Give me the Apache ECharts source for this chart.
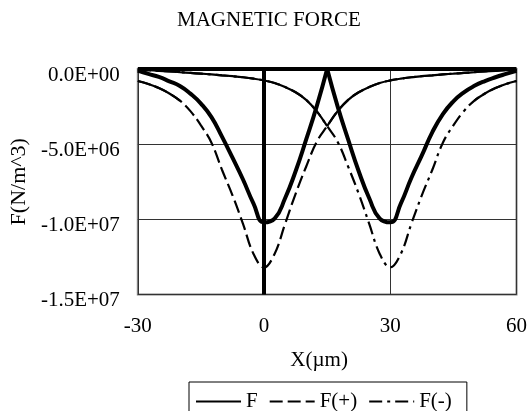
<!DOCTYPE html>
<html><head><meta charset="utf-8">
<script src="https://cdn.jsdelivr.net/npm/echarts@6/dist/echarts.min.js"></script>
<style>html,body{margin:0;padding:0;background:#fff}#c{width:530px;height:411px}</style>
</head><body><div id="c"></div>
<script>
// x positions (µm)
const xValues = [-30,-27.5,-25,-22.5,-20,-17.5,-15,-12.5,-10,-7.5,-5,-2.5,0,2.5,5,7.5,10,12.5,15,17.5,20,22.5,25,27.5,30,32.5,35,37.5,40,42.5,45,47.5,50,52.5,55,57.5,60];
// values in units of 1E+06 N/m^3
const F_e6 = [-0.10,-0.33,-0.53,-0.82,-1.13,-1.64,-2.30,-3.20,-4.50,-5.90,-7.35,-8.95,-10.2,-9.95,-8.60,-6.80,-4.70,-2.50,0,-2.50,-4.70,-6.80,-8.60,-9.95,-10.2,-8.95,-7.25,-5.75,-4.20,-3.00,-2.15,-1.55,-1.12,-0.80,-0.55,-0.33,-0.12];
const Fplus_e6 = [-0.80,-1.00,-1.27,-1.63,-2.10,-2.80,-3.75,-4.90,-6.70,-8.40,-10.3,-12.3,-13.2,-12.3,-10.3,-8.30,-6.50,-4.85,-3.80,-2.80,-2.05,-1.55,-1.20,-0.93,-0.76,-0.64,-0.55,-0.48,-0.42,-0.36,-0.31,-0.26,-0.21,-0.16,-0.12,-0.08,-0.05];
const Fminus_e6 = [-0.05,-0.08,-0.12,-0.16,-0.21,-0.26,-0.31,-0.36,-0.42,-0.48,-0.55,-0.64,-0.76,-0.93,-1.20,-1.55,-2.05,-2.80,-3.80,-4.85,-6.50,-8.30,-10.3,-12.3,-13.2,-12.3,-10.3,-8.40,-6.70,-4.90,-3.75,-2.80,-2.10,-1.63,-1.27,-1.00,-0.80];
const seriesNames = ['F','F(+)','F(-)'];
const xTickValues = [-30,0,30,60];
const xTickLabels = ['-30','0','30','60'];
const yTickValues = [0,-5e6,-1e7,-1.5e7];
const yTickLabels = ['0.0E+00','-5.0E+06','-1.0E+07','-1.5E+07'];
const titleText = 'MAGNETIC FORCE';
const xName = 'X(\u00b5m)';
const yName = 'F(N/m^3)';
const cuspX = 15; // F has a sharp cusp here

// ranges where the dashed curves look solid in the original
const plusSolidRanges = [[-30,-20],[15,60]];
const minusSolidRanges = [[-30,15],[50,60]];

const toPairs = arr => xValues.map((x,i)=>[x, arr[i]*1e6]);
const inRanges = (x,r) => r.some(([a,b])=>x>=a && x<=b);
const masked = (arr,r) => xValues.map((x,i)=>[x, inRanges(x,r)? arr[i]*1e6 : null]);

const FONT = '"Liberation Serif","Times New Roman",serif';
const fStyle = {color:'#000',width:4};
const chart = echarts.init(document.getElementById('c'), null, {renderer:'canvas'});
chart.setOption({
  animation:false,
  backgroundColor:'#fff',
  title:{text:titleText,left:172,top:5,
    textStyle:{fontFamily:FONT,fontSize:21,fontWeight:'normal',color:'#000'}},
  grid:{left:136,right:11,top:69,bottom:116.5,show:true,borderColor:'#808080',borderWidth:2,backgroundColor:'#fff'},
  legend:{
    data:seriesNames,left:189,top:382,padding:[9,15,8,6],itemGap:11,itemWidth:45,itemHeight:14,
    borderColor:'#000',borderWidth:1,backgroundColor:'#fff',
    itemStyle:{opacity:0,color:'transparent',borderWidth:0},
    textStyle:{fontFamily:FONT,fontSize:21,color:'#000'}
  },
  xAxis:{
    type:'value',min:-30,max:60,interval:30,
    name:xName,nameLocation:'middle',nameGap:55,
    nameTextStyle:{fontFamily:FONT,fontSize:21,color:'#000',padding:[0,16,0,0]},
    axisLine:{show:false},axisTick:{show:false},
    axisLabel:{margin:21,fontFamily:FONT,fontSize:21,color:'#000',
      formatter:v=>{const i=xTickValues.indexOf(v);return i>=0?xTickLabels[i]:'';}},
    splitLine:{show:true,lineStyle:{color:'#333',width:1}}
  },
  yAxis:{
    type:'value',min:-1.5e7,max:0,interval:5e6,
    name:yName,nameLocation:'middle',nameGap:104,
    nameTextStyle:{fontFamily:FONT,fontSize:22,color:'#000'},
    axisLine:{show:false},axisTick:{show:false},
    axisLabel:{margin:18,fontFamily:FONT,fontSize:21,color:'#000',verticalAlign:'top',lineHeight:12,
      formatter:v=>{const i=yTickValues.indexOf(v);return i>=0?yTickLabels[i]:'';}},
    splitLine:{show:true,lineStyle:{color:'#333',width:1}}
  },
  series:[
    {name:'F',type:'line',data:toPairs(F_e6).filter(p=>p[0]<=cuspX),symbol:'none',smooth:0.5,
      lineStyle:fStyle,z:4,
      markLine:{silent:true,symbol:'none',label:{show:false},animation:false,
        lineStyle:{color:'#000',width:4,type:'solid'},
        data:[{xAxis:0},{yAxis:0}]}},
    {name:'F(+)',type:'line',data:toPairs(Fplus_e6),symbol:'none',smooth:0.4,
      lineStyle:{color:'#000',width:2.2,type:[13,5]},z:3},
    {name:'F(-)',type:'line',data:toPairs(Fminus_e6),symbol:'none',smooth:0.4,
      lineStyle:{color:'#000',width:2.2,type:[13,5,3,5]},z:3},
    {name:'F(+) tail',type:'line',data:masked(Fplus_e6,plusSolidRanges),symbol:'none',smooth:0.4,
      lineStyle:{color:'#000',width:2.2,type:'solid'},z:3},
    {name:'F(-) tail',type:'line',data:masked(Fminus_e6,minusSolidRanges),symbol:'none',smooth:0.4,
      lineStyle:{color:'#000',width:2.2,type:'solid'},z:3},
    {name:'F',type:'line',data:toPairs(F_e6).filter(p=>p[0]>=cuspX),symbol:'none',smooth:0.5,
      lineStyle:fStyle,z:4}
  ]
});
</script></body></html>
